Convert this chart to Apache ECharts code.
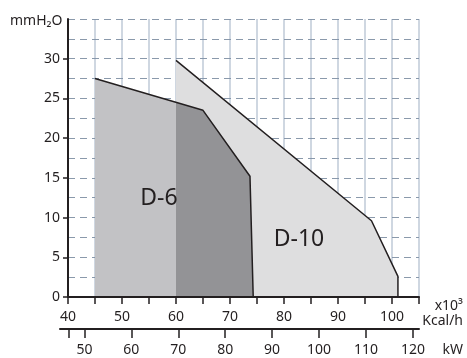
<!DOCTYPE html>
<html>
<head>
<meta charset="utf-8">
<script src="https://cdn.jsdelivr.net/npm/echarts@6/dist/echarts.min.js"></script>
<style>html,body{margin:0;padding:0;background:#fff}#c{width:467px;height:358px}</style>
</head>
<body>
<div id="c"></div>
<script>
// Kcal/h (x10^3) axis
const kcalLabels = [40, 50, 60, 70, 80, 90, 100];
// kW axis
const kwLabels = [50, 60, 70, 80, 90, 100, 110, 120];
const kwTicks = [46.6, 50, 60, 70, 80, 90, 100, 110, 120];
const kwMin = 44.8, kwMax = 121.3;
// mmH2O axis
const yLabels = [0, 5, 10, 15, 20, 25, 30];
// D-10 outline
const d10X = [60, 96.2, 101.1, 101.1];
const d10Y = [29.8, 9.6, 2.6, 0];
// D-6 outline
const d6X = [45, 65, 73.7, 74.3];
const d6Y = [27.5, 23.5, 15.2, 0];
// overlap of D-6 and D-10 (from x=60)
const ovX = [60, 65, 73.7, 74.3];
const ovY = [24.5, 23.5, 15.2, 0];

const zip = (xs, ys) => xs.map((x, i) => [x, ys[i]]);
const INK = '#231f20';
const FONT = 'Noto Sans';

const chart = echarts.init(document.getElementById('c'), null, {renderer: 'canvas'});
chart.setOption({
  animation: false,
  backgroundColor: '#fff',
  grid: [
    {left: 68, right: 48, top: 19, bottom: 61},
    {left: 60, right: 48, top: 19, bottom: 61}
  ],
  xAxis: [
    {
      type: 'value', gridIndex: 0, min: 40, max: 105, interval: 5, position: 'bottom', z: 3,
      axisLine: {show: true, onZero: false, lineStyle: {color: INK, width: 2}},
      axisTick: {show: true, inside: false, length: 7, lineStyle: {color: INK, width: 1.5}},
      axisLabel: {customValues: kcalLabels, margin: 13, color: INK, fontSize: 14, fontFamily: FONT},
      splitLine: {show: true, lineStyle: {color: 'rgba(130,150,178,0.5)', width: 1.5}}
    },
    {
      type: 'value', gridIndex: 1, min: kwMin, max: kwMax, position: 'bottom', offset: 32,
      axisLine: {show: true, onZero: false, lineStyle: {color: INK, width: 2}},
      axisTick: {show: true, inside: false, length: 9, customValues: kwTicks, lineStyle: {color: INK, width: 1.5}},
      axisLabel: {customValues: kwLabels, margin: 14, color: INK, fontSize: 14, fontFamily: FONT},
      splitLine: {show: false}
    }
  ],
  yAxis: [
    {
      type: 'value', gridIndex: 0, min: 0, max: 35, interval: 2.5, position: 'left', z: 3,
      axisLine: {show: false}, axisTick: {show: false}, axisLabel: {show: false},
      splitLine: {show: true, lineStyle: {color: '#8a99ab', width: 1, type: [7, 5]}}
    },
    {
      type: 'value', gridIndex: 0, min: 0, max: 35, interval: 5, position: 'left', z: 3,
      axisLine: {show: true, onZero: false, lineStyle: {color: INK, width: 2}},
      axisTick: {show: true, inside: false, length: 5, customValues: yLabels, lineStyle: {color: INK, width: 1.5}},
      axisLabel: {customValues: yLabels, margin: 8, color: INK, fontSize: 14, fontFamily: FONT},
      splitLine: {show: false}
    },
    {type: 'value', gridIndex: 1, min: 0, max: 35, show: false}
  ],
  series: [
    {
      type: 'line', name: 'D-10', xAxisIndex: 0, yAxisIndex: 0, data: zip(d10X, d10Y),
      symbol: 'none', lineStyle: {color: INK, width: 1.5},
      areaStyle: {color: '#dededf', opacity: 1}
    },
    {
      type: 'line', name: 'D-6 area', xAxisIndex: 0, yAxisIndex: 0, data: zip(d6X, d6Y),
      symbol: 'none', lineStyle: {width: 0, opacity: 0},
      areaStyle: {color: '#c2c2c5', opacity: 1}
    },
    {
      type: 'line', name: 'overlap', xAxisIndex: 0, yAxisIndex: 0, data: zip(ovX, ovY),
      symbol: 'none', lineStyle: {width: 0, opacity: 0},
      areaStyle: {color: '#939396', opacity: 1}
    },
    {
      type: 'line', name: 'D-6', xAxisIndex: 0, yAxisIndex: 0, data: zip(d6X, d6Y),
      symbol: 'none', lineStyle: {color: INK, width: 1.5}
    }
  ],
  graphic: [
    {type: 'text', z: 10, style: {text: 'mmH₂O', x: 10, y: 21, verticalAlign: 'middle', fill: INK, font: '14px "Noto Sans"'}},
    {type: 'text', z: 10, style: {text: 'x10³', x: 463, y: 306, align: 'right', verticalAlign: 'middle', fill: INK, font: '14px "Noto Sans"'}},
    {type: 'text', z: 10, style: {text: 'Kcal/h', x: 463, y: 321, align: 'right', verticalAlign: 'middle', fill: INK, font: '14px "Noto Sans"'}},
    {type: 'text', z: 10, style: {text: 'kW', x: 463, y: 350, align: 'right', verticalAlign: 'middle', fill: INK, font: '14px "Noto Sans"'}},
    {type: 'text', z: 10, style: {text: 'D-6', x: 159, y: 198, align: 'center', verticalAlign: 'middle', fill: INK, font: '23px "Noto Sans"'}},
    {type: 'text', z: 10, style: {text: 'D-10', x: 299, y: 239, align: 'center', verticalAlign: 'middle', fill: INK, font: '23px "Noto Sans"'}}
  ]
});
</script>
</body>
</html>
